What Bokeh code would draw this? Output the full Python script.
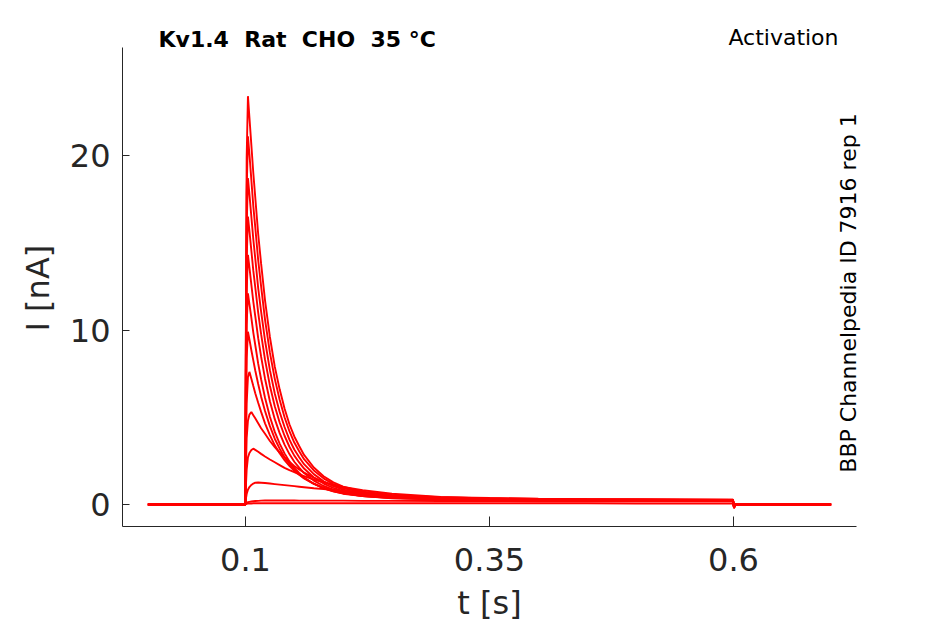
import math
from bokeh.plotting import figure
from bokeh.models import Range1d, FixedTicker, Label
from bokeh.embed import file_html
from bokeh.resources import INLINE

# ---- data (time in s, current in nA) ----
time_s = [0.0, 0.0998, 0.1002, 0.1012, 0.1025, 0.104, 0.106, 0.108, 0.11, 0.113,
          0.116, 0.12, 0.125, 0.13, 0.135, 0.14, 0.145, 0.15, 0.155, 0.16,
          0.17, 0.18, 0.19, 0.2, 0.22, 0.25, 0.3, 0.35, 0.4, 0.45,
          0.5, 0.55, 0.5995, 0.6005, 0.602, 0.7]

sweep_01 = [0, 0, 8.2, 19.9, 23.4, 22.2, 20.6, 19.0, 17.6, 15.5, 13.8, 11.7, 9.6, 7.9, 6.6, 5.5, 4.6, 3.9,
            3.35, 2.84, 2.12, 1.62, 1.27, 1.02, 0.74, 0.53, 0.42, 0.37, 0.33, 0.31, 0.30, 0.29, 0.28, -0.22, 0.02, 0.0]
sweep_02 = [0, 0, 7.4, 17.9, 21.1, 20.1, 18.6, 17.1, 15.9, 14.0, 12.5, 10.6, 8.7, 7.2, 6.0, 5.0, 4.2, 3.55,
            3.05, 2.6, 1.95, 1.5, 1.17, 0.95, 0.7, 0.51, 0.4, 0.36, 0.32, 0.3, 0.29, 0.28, 0.27, -0.2, 0.02, 0.0]
sweep_03 = [0, 0, 6.5, 15.9, 18.7, 17.8, 16.5, 15.2, 14.1, 12.4, 11.05, 9.4, 7.7, 6.36, 5.3, 4.44, 3.72, 3.15,
            2.71, 2.31, 1.74, 1.33, 1.05, 0.85, 0.63, 0.46, 0.37, 0.33, 0.3, 0.29, 0.28, 0.27, 0.26, -0.2, 0.01, 0.0]
sweep_04 = [0, 0, 5.8, 14.0, 16.5, 15.7, 14.55, 13.4, 12.45, 11.0, 9.76, 8.3, 6.81, 5.63, 4.7, 3.94, 3.31, 2.8,
            2.41, 2.06, 1.55, 1.2, 0.95, 0.77, 0.58, 0.43, 0.35, 0.32, 0.29, 0.28, 0.27, 0.26, 0.25, -0.18, 0.01, 0.0]
sweep_05 = [0, 0, 5.0, 12.2, 14.3, 13.6, 12.6, 11.63, 10.8, 9.53, 8.47, 7.21, 5.92, 4.89, 4.09, 3.43, 2.89, 2.45,
            2.11, 1.8, 1.37, 1.06, 0.85, 0.7, 0.53, 0.4, 0.33, 0.3, 0.28, 0.27, 0.26, 0.25, 0.24, -0.17, 0.01, 0.0]
sweep_06 = [0, 0, 4.2, 10.3, 12.1, 11.5, 10.7, 9.85, 9.14, 8.07, 7.18, 6.12, 5.03, 4.16, 3.49, 2.93, 2.47, 2.1,
            1.81, 1.55, 1.19, 0.93, 0.75, 0.62, 0.48, 0.37, 0.31, 0.28, 0.26, 0.25, 0.25, 0.24, 0.24, -0.16, 0.01, 0.0]
sweep_07 = [0, 0, 3.4, 8.4, 9.9, 9.47, 8.84, 8.26, 7.68, 6.91, 6.18, 5.36, 4.49, 3.77, 3.2, 2.71, 2.34, 2.0,
            1.74, 1.52, 1.19, 0.94, 0.76, 0.64, 0.48, 0.38, 0.3, 0.27, 0.25, 0.24, 0.24, 0.23, 0.23, -0.15, 0.01, 0.0]
sweep_08 = [0, 0, 2.5, 5.8, 7.3, 7.6, 7.21, 6.79, 6.38, 5.83, 5.31, 4.65, 3.98, 3.39, 2.94, 2.54, 2.21, 1.93,
            1.7, 1.49, 1.18, 0.96, 0.79, 0.65, 0.49, 0.36, 0.29, 0.26, 0.24, 0.23, 0.22, 0.22, 0.21, -0.14, 0.01, 0.0]
sweep_09 = [0, 0, 1.6, 3.8, 4.8, 5.15, 5.3, 5.12, 4.94, 4.66, 4.37, 4.05, 3.64, 3.29, 2.98, 2.7, 2.44, 2.21,
            2.01, 1.83, 1.54, 1.3, 1.1, 0.94, 0.71, 0.51, 0.34, 0.28, 0.24, 0.22, 0.21, 0.2, 0.2, -0.12, 0.01, 0.0]
sweep_10 = [0, 0, 0.8, 2.0, 2.7, 2.95, 3.12, 3.2, 3.13, 3.02, 2.9, 2.75, 2.58, 2.42, 2.26, 2.1, 1.97, 1.85,
            1.73, 1.63, 1.43, 1.27, 1.13, 1.01, 0.82, 0.62, 0.43, 0.33, 0.28, 0.25, 0.22, 0.21, 0.2, -0.1, 0.01, 0.0]
sweep_11 = [0, 0, 0.25, 0.6, 0.85, 1.0, 1.12, 1.2, 1.25, 1.26, 1.25, 1.23, 1.2, 1.17, 1.14, 1.11, 1.08, 1.05,
            1.02, 0.99, 0.93, 0.88, 0.83, 0.78, 0.68, 0.55, 0.4, 0.32, 0.28, 0.26, 0.25, 0.24, 0.23, -0.08, 0.01, 0.0]
sweep_12 = [0, 0, 0.05, 0.1, 0.13, 0.15, 0.17, 0.19, 0.2, 0.21, 0.22, 0.23, 0.23, 0.23, 0.23, 0.23, 0.23, 0.23,
            0.22, 0.22, 0.22, 0.22, 0.22, 0.22, 0.21, 0.21, 0.2, 0.2, 0.19, 0.19, 0.19, 0.18, 0.18, -0.05, 0.0, 0.0]
sweep_13 = [0, 0, 0.02, 0.04, 0.05, 0.06, 0.06, 0.07, 0.07, 0.07, 0.07, 0.07, 0.07, 0.07, 0.07, 0.07, 0.07, 0.07,
            0.07, 0.07, 0.07, 0.07, 0.07, 0.07, 0.07, 0.07, 0.07, 0.07, 0.07, 0.07, 0.06, 0.06, 0.06, -0.02, 0.0, 0.0]

sweeps = [sweep_01, sweep_02, sweep_03, sweep_04, sweep_05, sweep_06, sweep_07,
          sweep_08, sweep_09, sweep_10, sweep_11, sweep_12, sweep_13]

x_ticks = [0.1, 0.35, 0.6]
x_tick_labels = ["0.1", "0.35", "0.6"]
y_ticks = [0, 10, 20]
y_tick_labels = ["0", "10", "20"]

# axes box (data limits of the drawn axes)
x_axis_limits = (-0.026, 0.726)
y_axis_limits = (-1.26, 26.19)

# double spaces kept visible with a no-break space
title_text = "Kv1.4 \u00a0Rat \u00a0CHO \u00a035 \u00b0C"
protocol_text = "Activation"
source_text = "BBP Channelpedia ID 7916 rep 1"
x_label = "t [s]"
y_label = "I [nA]"

# ---- figure: the frame spans the whole canvas, axes are pinned with fixed_location ----
W, H = 945, 624
p = figure(width=W, height=H, output_backend="svg", toolbar_location=None,
           x_range=Range1d(-0.15102, 0.81721), y_range=Range1d(-6.8768, 28.883),
           min_border_left=0, min_border_right=0, min_border_top=0, min_border_bottom=0)
p.outline_line_color = None
p.xgrid.visible = False
p.ygrid.visible = False
p.background_fill_color = "white"
p.border_fill_color = "white"

axis_col = "#262626"
xa = p.xaxis[0]
ya = p.yaxis[0]
xa.fixed_location = y_axis_limits[0]
ya.fixed_location = x_axis_limits[0]
xa.bounds = x_axis_limits
ya.bounds = y_axis_limits

for ax, ticks, labels, tick_len, standoff in (
        (xa, x_ticks, x_tick_labels, 10, 22),
        (ya, y_ticks, y_tick_labels, 7, 12)):
    ax.ticker = FixedTicker(ticks=ticks)
    ax.major_label_overrides = {t: l for t, l in zip(ticks, labels)}
    ax.axis_line_color = axis_col
    ax.axis_line_width = 1
    ax.major_tick_line_color = axis_col
    ax.major_tick_in = tick_len
    ax.major_tick_out = 0
    ax.minor_tick_line_color = None
    ax.major_label_text_font = "DejaVu Sans"
    ax.major_label_text_font_size = "32px"
    ax.major_label_text_color = axis_col
    ax.major_label_standoff = standoff

for s in sweeps:
    p.line(time_s, s, line_color="#ff0000", line_width=1.9)

# ---- texts ----
p.add_layout(Label(x=0.0109, y=26.65, text=title_text, text_font="DejaVu Sans",
                   text_font_style="bold", text_font_size="22px", text_color="black",
                   text_align="left", text_baseline="alphabetic"))
p.add_layout(Label(x=0.7076, y=26.74, text=protocol_text, text_font="DejaVu Sans",
                   text_font_size="22px", text_color="black",
                   text_align="right", text_baseline="alphabetic"))
p.add_layout(Label(x=0.7183, y=12.12, text=source_text, text_font="DejaVu Sans",
                   text_font_size="22px", text_color="black", angle=math.pi / 2,
                   text_align="center", text_baseline="alphabetic"))
p.add_layout(Label(x=0.35, y=-5.62, text=x_label, text_font="DejaVu Sans",
                   text_font_size="32px", text_color=axis_col,
                   text_align="center", text_baseline="alphabetic"))
p.add_layout(Label(x=-0.1126, y=12.4, text=y_label, text_font="DejaVu Sans",
                   text_font_size="32px", text_color=axis_col, angle=math.pi / 2,
                   text_align="center", text_baseline="alphabetic"))

open("out.html", "w").write(file_html(p, INLINE))
